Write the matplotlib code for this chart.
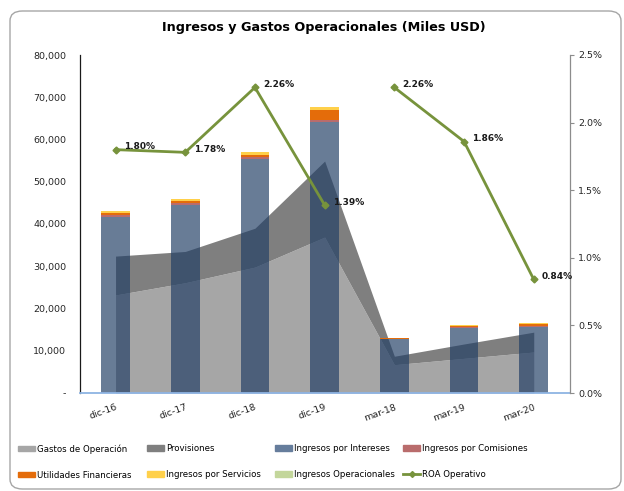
import numpy as np
import matplotlib.pyplot as plt
from matplotlib.patches import FancyBboxPatch, Patch
from matplotlib.lines import Line2D
from matplotlib.ticker import FuncFormatter, MultipleLocator

periodos = ['dic-16', 'dic-17', 'dic-18', 'dic-19', 'mar-18', 'mar-19', 'mar-20']

# miles USD
gastos_operacion = [23200, 26100, 29800, 36900, 6700, 8200, 9700]
provisiones = [9200, 7400, 9200, 18000, 2000, 3400, 4700]
ing_intereses = [41600, 44500, 55300, 64100, 12700, 15400, 15700]
ing_comisiones = [500, 400, 500, 600, 150, 250, 250]
utilidades_fin = [400, 500, 600, 2300, 100, 250, 350]
ing_servicios = [500, 500, 600, 700, 120, 230, 370]
ing_operacionales = [0, 0, 0, 0, 0, 0, 0]

# ROA operativo en %
roa = [1.80, 1.78, 2.26, 1.39, 2.26, 1.86, 0.84]

c_gastos = '#A6A6A6'
c_prov = '#7F7F7F'
c_int = '#213E65'
c_com = '#B96C6C'
c_util = '#E46C0A'
c_serv = '#FFD04A'
c_oper = '#C3D69B'
c_roa = '#77933C'

plt.rcParams['font.family'] = 'DejaVu Sans'

fig = plt.figure(figsize=(6.24, 4.91), dpi=100)
ax = fig.add_axes([80/624, 1-393/491, 490/624, 338/491])

x = np.arange(len(periodos))
g = np.array(gastos_operacion)
p = np.array(provisiones)

ax.fill_between(x, 0, g, color=c_gastos, lw=0, zorder=1)
ax.fill_between(x, g, g + p, color=c_prov, lw=0, zorder=1)

w = 0.41
b = np.zeros(len(x))
ax.bar(x, ing_intereses, w, color=c_int, alpha=0.68, zorder=2)
b += ing_intereses
ax.bar(x, ing_comisiones, w, bottom=b, color=c_com, zorder=2)
b += ing_comisiones
ax.bar(x, utilidades_fin, w, bottom=b, color=c_util, zorder=2)
b += utilidades_fin
ax.bar(x, ing_servicios, w, bottom=b, color=c_serv, zorder=2)
b += ing_servicios
ax.bar(x, ing_operacionales, w, bottom=b, color=c_oper, zorder=2)

ax.set_xlim(-0.51, 6.52)
ax.set_ylim(0, 80000)
ax.yaxis.set_major_locator(MultipleLocator(10000))
ax.yaxis.set_major_formatter(FuncFormatter(lambda v, pos: '-' if v == 0 else '{:,.0f}'.format(v)))
ax.tick_params(axis='y', length=0, pad=10, labelsize=6.8, labelcolor='#262626')
ax.set_xticks(x)
ax.set_xticklabels(periodos, rotation=20, ha='right', rotation_mode='anchor')
ax.tick_params(axis='x', length=0, pad=7, labelsize=6.8, labelcolor='#262626')
ax.spines['top'].set_visible(False)
ax.spines['right'].set_visible(False)
ax.spines['left'].set_color('#1A1A1A')
ax.spines['left'].set_linewidth(0.9)
ax.spines['bottom'].set_color('#8EB4E3')
ax.spines['bottom'].set_linewidth(1.3)

ax2 = ax.twinx()
ax2.plot(x[:4], roa[:4], color=c_roa, lw=2, marker='D', ms=3.5)
ax2.plot(x[4:], roa[4:], color=c_roa, lw=2, marker='D', ms=3.5)
for xi, r in zip(x, roa):
    ax2.annotate('{:.2f}%'.format(r), (xi, r), xytext=(6, 2), textcoords='offset points',
                 ha='left', va='center', fontsize=6.5, fontweight='bold', color='#1A1A1A')
ax2.set_ylim(0, 2.5)
ax2.yaxis.set_major_locator(MultipleLocator(0.5))
ax2.yaxis.set_major_formatter(FuncFormatter(lambda v, pos: '{:.1f}%'.format(v)))
ax2.tick_params(axis='y', length=3, width=0.8, color='#8C8C8C', pad=3, labelsize=6.8, labelcolor='#262626')
for s in ['top', 'left', 'bottom']:
    ax2.spines[s].set_visible(False)
ax2.spines['right'].set_color('#8C8C8C')
ax2.spines['right'].set_linewidth(0.9)

fig.text(324/624, 1-27/491, 'Ingresos y Gastos Operacionales (Miles USD)', ha='center', va='center',
         fontsize=9.2, fontweight='bold', color='black')

# leyenda: una columna por grupo, para fijar la posicion de cada una
columnas = [
    (18, [Patch(color=c_gastos, label='Gastos de Operación'),
          Patch(color=c_util, label='Utilidades Financieras')]),
    (147, [Patch(color=c_prov, label='Provisiones'),
           Patch(color=c_serv, label='Ingresos por Servicios')]),
    (275, [Patch(color='#667D9C', label='Ingresos por Intereses'),
           Patch(color=c_oper, label='Ingresos Operacionales')]),
    (403, [Patch(color=c_com, label='Ingresos por Comisiones'),
           Line2D([], [], color=c_roa, lw=2, marker='D', ms=3, label='ROA Operativo')]),
]
for xc, hs in columnas:
    fig.legend(handles=hs, loc='upper left', bbox_to_anchor=(xc/624, 1-444/491),
               frameon=False, fontsize=6.2, borderpad=0, borderaxespad=0,
               handlelength=2.0, handleheight=0.6, handletextpad=0.2, labelspacing=2.0)

fig.patches.append(FancyBboxPatch((10/624, 2/491), 611/624, 478/491,
                                  boxstyle='round,pad=0,rounding_size=0.02',
                                  transform=fig.transFigure, fill=False,
                                  edgecolor='#A6A6A6', lw=1))

fig.savefig('out.png', dpi=100)
